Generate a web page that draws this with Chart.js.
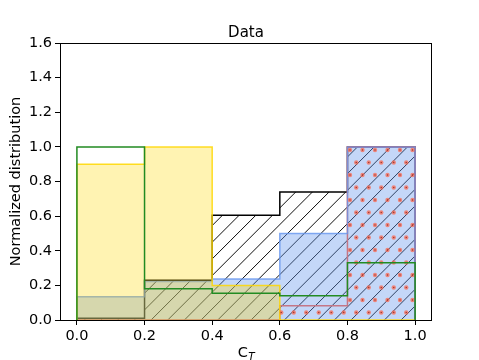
<!DOCTYPE html>
<html>
<head>
<meta charset="utf-8">
<script src="https://cdn.jsdelivr.net/npm/chart.js@4.4.1/dist/chart.umd.min.js"></script>
<style>
  html, body { margin: 0; padding: 0; background: #fff; }
  canvas { display: block; }
</style>
</head>
<body>
<canvas id="chart" width="479" height="360"></canvas>
<script>
// histogram bin edges (C_T) and normalized heights
const binEdges = [0.0, 0.2, 0.4, 0.6, 0.8, 1.0];
const yellowVals = [0.90, 1.00, 0.20, 0.00, 0.00];
const greenVals = [1.00, 0.18, 0.155, 0.14, 0.33];
const blueVals = [0.135, 0.222, 0.237, 0.50, 1.00];
const blackVals = [0.01, 0.23, 0.605, 0.74, 1.00];
const redVals = [0.00, 0.00, 0.00, 0.083, 1.00];

const xTicks = [0.0, 0.2, 0.4, 0.6, 0.8, 1.0];
const yTicks = [0.0, 0.2, 0.4, 0.6, 0.8, 1.0, 1.2, 1.4, 1.6];

const FONT = "'DejaVu Sans', sans-serif";

/* ---------------------------- helpers ---------------------------------- */

// closed step outline like matplotlib's histtype="stepfilled"
function stepPoints(vals) {
  const pts = [{ x: binEdges[0], y: 0 }];
  vals.forEach((v, i) => {
    pts.push({ x: binEdges[i], y: v });
    pts.push({ x: binEdges[i + 1], y: v });
  });
  pts.push({ x: binEdges[binEdges.length - 1], y: 0 });
  return pts;
}

// '/' hatch, 6 lines per 100px like matplotlib
function slashPattern() {
  const c = document.createElement("canvas");
  c.width = 100;
  c.height = 100;
  const g = c.getContext("2d");
  g.strokeStyle = "rgba(0,0,0,0.95)";
  g.lineWidth = 1;
  const step = 100 / 6;
  for (let k = -8; k <= 14; k++) {
    const s = 4.4 + k * step; // x + y = s
    g.beginPath();
    g.moveTo(s - 100, 100);
    g.lineTo(s + 100, -100);
    g.stroke();
  }
  return g.createPattern(c, "repeat");
}

// '.' hatch: staggered small dots
function dotPattern() {
  const c = document.createElement("canvas");
  c.width = 25;
  c.height = 25;
  const g = c.getContext("2d");
  const spots = [];
  [[0, 0], [12.5, 0], [6.25, 12.5], [18.75, 12.5]].forEach(([x, y]) => {
    [-25, 0, 25].forEach((dx) => [-25, 0, 25].forEach((dy) => spots.push([x + dx, y + dy])));
  });
  spots.forEach(([x, y]) => {
    g.fillStyle = "rgba(255,99,71,0.7)";
    g.beginPath();
    g.arc(x, y, 2.2, 0, Math.PI * 2);
    g.fill();
  });
  spots.forEach(([x, y]) => {
    g.fillStyle = "rgba(120,25,15,0.75)";
    g.fillRect(x - 0.6, y - 0.6, 1.2, 1.2);
  });
  return g.createPattern(c, "repeat");
}

function histDataset(vals, opts) {
  return Object.assign({
    data: stepPoints(vals),
    borderWidth: 1.5,
    pointRadius: 0,
    tension: 0,
    fill: "origin"
  }, opts);
}

/* ---------------------------- plugins ---------------------------------- */

const frameAndText = {
  id: "frameAndText",
  beforeDatasetsDraw(chart) {
    const { ctx, chartArea: a } = chart;
    ctx.save();
    ctx.strokeStyle = "#000";
    ctx.lineWidth = 1;
    ctx.strokeRect(a.left + 0.5, a.top + 0.5, a.right - a.left - 1, a.bottom - a.top);
    ctx.restore();
  },
  afterDraw(chart) {
    const { ctx, chartArea: a } = chart;
    const cx = (a.left + a.right) / 2;
    ctx.save();
    ctx.fillStyle = "#000";
    ctx.textBaseline = "alphabetic";

    // title
    ctx.font = "15px " + FONT;
    ctx.textAlign = "center";
    ctx.fillText("Data", cx, 37);

    // x label: C with subscript T
    ctx.font = "14.5px " + FONT;
    const wC = ctx.measureText("C").width;
    ctx.font = "italic 10.5px " + FONT;
    const wT = ctx.measureText("T").width;
    const x0 = cx - (wC + wT) / 2;
    ctx.textAlign = "left";
    ctx.font = "14.5px " + FONT;
    ctx.fillText("C", x0, 357);
    ctx.font = "italic 10.5px " + FONT;
    ctx.fillText("T", x0 + wC + 0.5, 360);

    // y label
    ctx.translate(20, (a.top + a.bottom) / 2);
    ctx.rotate(-Math.PI / 2);
    ctx.font = "14.5px " + FONT;
    ctx.textAlign = "center";
    ctx.fillText("Normalized distribution", 0, 0);
    ctx.restore();
  }
};

/* ----------------------------- chart ----------------------------------- */

const ctx = document.getElementById("chart").getContext("2d");

new Chart(ctx, {
  type: "line",
  data: {
    datasets: [
      histDataset(greenVals, {
        label: "green",
        borderColor: "#228b22",
        backgroundColor: "rgba(0,0,0,0)",
        fill: false,
        order: 1
      }),
      // red hatch dots sit above the blue fill, red outline below it
      histDataset(redVals, {
        label: "red hatch",
        borderWidth: 0,
        borderColor: "rgba(0,0,0,0)",
        backgroundColor: dotPattern(),
        order: 2
      }),
      histDataset(yellowVals, {
        label: "yellow",
        borderColor: "rgba(255,215,0,0.85)",
        backgroundColor: "rgba(255,215,0,0.3)",
        order: 3
      }),
      histDataset(blueVals, {
        label: "blue",
        borderColor: "rgba(100,149,237,0.8)",
        backgroundColor: "rgba(100,149,237,0.38)",
        order: 4
      }),
      histDataset(redVals, {
        label: "red",
        borderColor: "#ff6347",
        backgroundColor: "rgba(0,0,0,0)",
        fill: false,
        order: 5
      }),
      histDataset(blackVals, {
        label: "black",
        borderColor: "#000",
        backgroundColor: slashPattern(),
        order: 6
      })
    ]
  },
  options: {
    responsive: false,
    animation: false,
    events: [],
    layout: { padding: { left: 0, right: 47, top: 43, bottom: 0 } },
    plugins: {
      legend: { display: false },
      title: { display: false },
      tooltip: { enabled: false }
    },
    scales: {
      x: {
        type: "linear",
        min: -0.05,
        max: 1.05,
        afterBuildTicks: (scale) => { scale.ticks = xTicks.map((v) => ({ value: v })); },
        afterFit: (scale) => { scale.height = 40; },
        border: { display: false },
        grid: { drawOnChartArea: false, drawTicks: true, tickLength: 5, color: "#000", lineWidth: 1 },
        ticks: {
          color: "#000",
          padding: 3,
          maxRotation: 0,
          font: { family: FONT, size: 14.5 },
          callback: (v) => Number(v).toFixed(1)
        }
      },
      y: {
        type: "linear",
        min: 0,
        max: 1.6,
        afterBuildTicks: (scale) => { scale.ticks = yTicks.map((v) => ({ value: v })); },
        afterFit: (scale) => { scale.width = 60; },
        border: { display: false },
        grid: { drawOnChartArea: false, drawTicks: true, tickLength: 5, color: "#000", lineWidth: 1 },
        ticks: {
          color: "#000",
          padding: 3,
          font: { family: FONT, size: 14.5 },
          callback: (v) => Number(v).toFixed(1)
        }
      }
    }
  },
  plugins: [frameAndText]
});
</script>
</body>
</html>
